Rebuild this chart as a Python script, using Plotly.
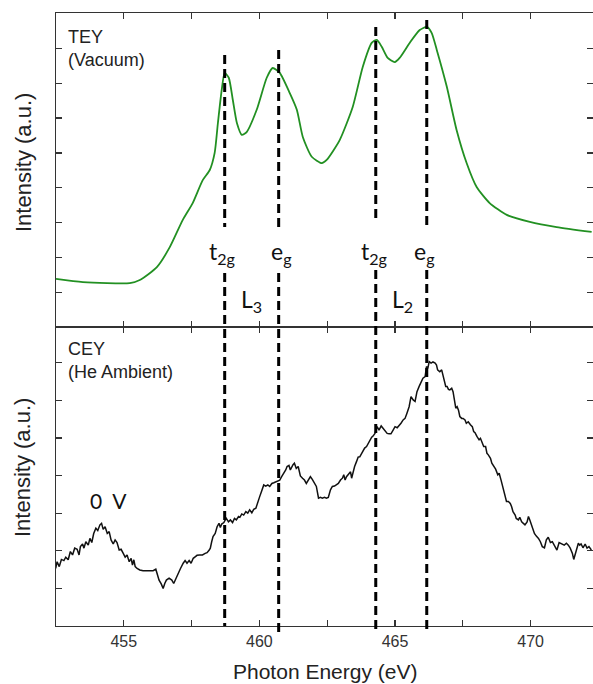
import plotly.graph_objects as go
from plotly.subplots import make_subplots

# ---------------- data ----------------
tey_energy = [452.50, 453.49, 455.22, 455.59, 456.22, 456.70, 457.17, 457.54, 457.91, 458.17,
              458.35, 458.47, 458.61, 458.72, 458.87, 459.02, 459.17, 459.35, 459.53, 459.90,
              460.27, 460.49, 460.75, 461.12, 461.38, 461.60, 461.93, 462.30, 462.48, 462.96,
              463.44, 463.81, 464.14, 464.33, 464.51, 464.73, 464.99, 465.17, 465.54, 465.91,
              466.17, 466.35, 466.54, 466.91, 467.27, 467.64, 468.01, 468.49, 469.12, 469.97,
              470.96, 472.25]
tey_intensity = [1.38, 1.29, 1.26, 1.35, 1.72, 2.30, 3.07, 3.56, 4.22, 4.51,
                 5.00, 5.86, 6.81, 7.30, 7.16, 6.52, 5.86, 5.52, 5.60, 6.24,
                 7.16, 7.44, 7.30, 6.72, 6.24, 5.46, 4.89, 4.71, 4.80, 5.37,
                 6.32, 7.47, 8.16, 8.25, 8.05, 7.73, 7.61, 7.73, 8.16, 8.53,
                 8.62, 8.45, 7.96, 6.90, 5.66, 4.71, 4.02, 3.56, 3.22, 3.02,
                 2.87, 2.73]

cey_energy = [452.49, 452.54, 452.62, 452.70, 452.79, 452.86, 452.95, 453.03, 453.11, 453.19,
              453.28, 453.35, 453.40, 453.48, 453.53, 453.60, 453.69, 453.75, 453.82, 453.89,
              453.97, 454.04, 454.12, 454.18, 454.24, 454.31, 454.39, 454.46, 454.53, 454.61,
              454.68, 454.75, 454.83, 454.90, 454.98, 455.05, 455.12, 455.20, 455.27, 455.32,
              455.37, 455.42, 455.49, 455.59, 455.71, 455.84, 455.96, 456.08, 456.18, 456.23,
              456.30, 456.38, 456.45, 456.51, 456.57, 456.67, 456.77, 456.84, 456.92, 457.00,
              457.09, 457.19, 457.26, 457.33, 457.41, 457.48, 457.56, 457.63, 457.70, 457.80,
              457.90, 458.00, 458.07, 458.15, 458.19, 458.24, 458.29, 458.37, 458.44, 458.51,
              458.56, 458.61, 458.69, 458.74, 458.78, 458.86, 458.93, 459.01, 459.08, 459.15,
              459.23, 459.28, 459.35, 459.42, 459.50, 459.57, 459.64, 459.72, 459.79, 459.87,
              459.94, 460.01, 460.09, 460.16, 460.23, 460.31, 460.38, 460.46, 460.53, 460.60,
              460.68, 460.75, 460.82, 460.90, 460.97, 461.02, 461.09, 461.14, 461.19, 461.24,
              461.29, 461.36, 461.43, 461.51, 461.59, 461.66, 461.73, 461.81, 461.88, 461.95,
              462.03, 462.10, 462.18, 462.25, 462.32, 462.40, 462.47, 462.54, 462.62, 462.69,
              462.77, 462.84, 462.91, 462.99, 463.06, 463.11, 463.16, 463.21, 463.26, 463.31,
              463.36, 463.40, 463.45, 463.51, 463.58, 463.64, 463.70, 463.76, 463.82, 463.88,
              463.95, 464.01, 464.07, 464.14, 464.19, 464.26, 464.34, 464.41, 464.49, 464.56,
              464.63, 464.71, 464.78, 464.85, 464.93, 465.00, 465.08, 465.15, 465.22, 465.30,
              465.37, 465.44, 465.52, 465.59, 465.67, 465.74, 465.81, 465.89, 465.96, 466.03,
              466.11, 466.16, 466.21, 466.26, 466.33, 466.40, 466.48, 466.53, 466.57, 466.65,
              466.72, 466.77, 466.82, 466.87, 466.92, 466.97, 467.02, 467.09, 467.14, 467.19,
              467.24, 467.29, 467.34, 467.39, 467.46, 467.51, 467.58, 467.63, 467.70, 467.78,
              467.85, 467.90, 467.95, 468.02, 468.10, 468.15, 468.20, 468.27, 468.34, 468.39,
              468.44, 468.52, 468.57, 468.64, 468.71, 468.79, 468.84, 468.91, 468.98, 469.06,
              469.11, 469.18, 469.25, 469.30, 469.35, 469.43, 469.47, 469.55, 469.60, 469.67,
              469.72, 469.79, 469.87, 469.92, 469.97, 470.01, 470.06, 470.14, 470.21, 470.29,
              470.36, 470.43, 470.51, 470.58, 470.65, 470.73, 470.80, 470.88, 470.92, 470.97,
              471.05, 471.12, 471.17, 471.24, 471.32, 471.39, 471.46, 471.54, 471.59, 471.66,
              471.71, 471.76, 471.81, 471.86, 471.93, 472.01, 472.08, 472.15, 472.24]
cey_intensity = [1.53, 1.71, 1.58, 1.77, 1.74, 1.83, 1.76, 1.98, 1.89, 2.07,
                 2.04, 1.89, 2.11, 2.18, 2.07, 2.24, 2.15, 2.33, 2.22, 2.46,
                 2.60, 2.54, 2.69, 2.73, 2.57, 2.64, 2.46, 2.51, 2.29, 2.18,
                 2.29, 2.22, 2.02, 2.04, 1.93, 1.83, 1.89, 1.71, 1.80, 1.62,
                 1.76, 1.58, 1.53, 1.49, 1.47, 1.47, 1.47, 1.47, 1.51, 1.36,
                 1.22, 1.12, 1.00, 1.13, 1.22, 1.27, 1.22, 1.13, 1.27, 1.40,
                 1.53, 1.67, 1.74, 1.67, 1.74, 1.67, 1.80, 1.84, 1.88, 1.89,
                 1.89, 1.93, 1.95, 2.02, 2.07, 2.24, 2.38, 2.46, 2.64, 2.73,
                 2.62, 2.71, 2.75, 2.82, 2.86, 2.77, 2.82, 2.75, 2.86, 2.82,
                 2.91, 2.89, 2.98, 2.95, 3.04, 3.00, 3.09, 3.01, 3.10, 3.13,
                 3.26, 3.44, 3.60, 3.75, 3.72, 3.75, 3.71, 3.79, 3.81, 3.83,
                 3.84, 3.88, 3.97, 4.06, 4.15, 4.24, 4.27, 4.15, 4.24, 4.29,
                 4.33, 4.19, 4.24, 3.99, 3.93, 3.88, 3.79, 3.90, 3.97, 3.90,
                 3.79, 3.71, 3.40, 3.42, 3.40, 3.42, 3.40, 3.42, 3.62, 3.71,
                 3.72, 3.75, 3.79, 3.88, 3.93, 4.02, 3.88, 3.97, 4.02, 4.08,
                 4.10, 3.93, 4.08, 4.24, 4.37, 4.49, 4.50, 4.59, 4.64, 4.73,
                 4.77, 4.86, 4.95, 5.02, 5.05, 5.12, 5.30, 5.21, 5.32, 5.26,
                 5.17, 5.12, 5.11, 5.11, 5.21, 5.30, 5.27, 5.32, 5.39, 5.48,
                 5.52, 5.66, 5.83, 6.10, 6.01, 5.97, 6.23, 6.37, 6.50, 6.59,
                 6.63, 6.90, 6.85, 7.03, 6.99, 7.02, 6.99, 6.94, 6.81, 6.76,
                 6.81, 6.63, 6.50, 6.37, 6.37, 6.29, 6.28, 6.32, 6.23, 6.01,
                 5.79, 5.83, 5.74, 5.57, 5.52, 5.52, 5.48, 5.39, 5.43, 5.35,
                 5.30, 5.17, 5.14, 5.04, 4.95, 4.99, 4.90, 4.77, 4.77, 4.59,
                 4.55, 4.46, 4.33, 4.24, 4.17, 4.02, 4.06, 3.88, 3.66, 3.48,
                 3.31, 3.31, 3.26, 3.17, 3.04, 2.95, 2.86, 2.82, 2.89, 2.77,
                 2.73, 2.69, 2.77, 2.91, 2.82, 2.73, 2.60, 2.46, 2.39, 2.33,
                 2.24, 2.11, 2.08, 2.29, 2.36, 2.22, 2.24, 2.15, 2.11, 2.02,
                 2.22, 2.20, 2.18, 2.15, 2.20, 2.15, 2.07, 1.93, 1.77, 1.93,
                 2.11, 2.20, 2.15, 2.18, 2.08, 2.18, 2.07, 2.11, 2.02]

peak_energies = [458.72, 460.71, 464.29, 466.17]
peak_labels = ["t<sub>2g</sub>", "e<sub>g</sub>", "t<sub>2g</sub>", "e<sub>g</sub>"]
edge_labels = ["L<sub>3</sub>", "L<sub>2</sub>"]
edge_positions = [459.72, 465.28]

x_tickvals = [455, 457.5, 460, 462.5, 465, 467.5, 470]
x_ticktext = ["455", "", "460", "", "465", "", "470"]

# ---------------- figure ----------------
W, H = 593, 684
ML, MR, MT, MB = 56, 0, 13, 58
plot_h = H - MT - MB

fig = make_subplots(rows=2, cols=1, shared_xaxes=True, vertical_spacing=0,
                    row_heights=[314, 299])

fig.add_trace(go.Scatter(x=tey_energy, y=tey_intensity, mode="lines",
                         line=dict(color="#229022", width=1.8, shape="spline", smoothing=0.6),
                         showlegend=False, hoverinfo="skip"), row=1, col=1)
fig.add_trace(go.Scatter(x=cey_energy, y=cey_intensity, mode="lines",
                         line=dict(color="#111111", width=1.5),
                         showlegend=False, hoverinfo="skip"), row=2, col=1)

axis_common = dict(showline=True, linecolor="#333333", linewidth=1.3, mirror="ticks",
                   ticks="inside", tickcolor="#333333", tickwidth=1.3, ticklen=6,
                   showgrid=False, zeroline=False)

fig.update_xaxes(range=[452.5, 472.3], tickvals=x_tickvals, ticktext=x_ticktext,
                 tickfont=dict(family="Liberation Sans, Arial", size=16, color="#333333"),
                 **axis_common)
fig.update_xaxes(showticklabels=False, row=1, col=1)
fig.update_yaxes(range=[0, 9.02], tickvals=[1, 2, 3, 4, 5, 6, 7, 8],
                 showticklabels=False, row=1, col=1, **axis_common)
fig.update_yaxes(range=[0, 7.95], tickvals=[1, 2, 3, 4, 5, 6, 7],
                 showticklabels=False, row=2, col=1, **axis_common)

def py(px):
    """pixel y (from top of figure) -> paper coordinate"""
    return (H - MB - px) / plot_h

shapes = []
tops = [55, 50, 27, 20]
gap_top = [227, 230, 223, 227]
gap_bot = [273, 273, 270, 270]
bottoms = [626, 633, 633, 630]
for e, t, g1, g2, b in zip(peak_energies, tops, gap_top, gap_bot, bottoms):
    for y0, y1 in [(t, g1), (g2, b)]:
        shapes.append(dict(type="line", xref="x2", yref="paper", x0=e, x1=e,
                           y0=py(y0), y1=py(y1),
                           line=dict(color="black", width=3, dash="9px,5px"), layer="above"))
fig.update_layout(shapes=shapes)

label_font = dict(family="Lato, Carlito, sans-serif", size=23, color="#111111")
label_shift = [-2, 3, -1, -2]
for e, lab, sh in zip(peak_energies, peak_labels, label_shift):
    fig.add_annotation(x=e, y=py(252), xref="x2", yref="paper", text=lab, showarrow=False,
                       xanchor="center", yanchor="middle", xshift=sh, font=label_font)
for e, lab in zip(edge_positions, edge_labels):
    fig.add_annotation(x=e, y=py(300), xref="x2", yref="paper", text=lab, showarrow=False,
                       xanchor="center", yanchor="middle", font=label_font)

arial = "Liberation Sans, Arial, sans-serif"
fig.add_annotation(x=(66 - ML) / (W - ML - MR), y=py(25), xref="paper", yref="paper",
                   text="TEY<br>(Vacuum)", showarrow=False, xanchor="left", yanchor="top",
                   align="left", font=dict(family=arial, size=18, color="#222222"))
fig.add_annotation(x=(66 - ML) / (W - ML - MR), y=py(337), xref="paper", yref="paper",
                   text="CEY<br>(He Ambient)", showarrow=False, xanchor="left", yanchor="top",
                   align="left", font=dict(family=arial, size=18, color="#222222"))
fig.add_annotation(x=(108 - ML) / (W - ML - MR), y=py(500), xref="paper", yref="paper",
                   text="0\u00a0\u00a0V", showarrow=False, xanchor="center", yanchor="middle",
                   font=dict(family="Lato, Carlito, sans-serif", size=21, color="#111111"))

for yc in [163, 468]:
    fig.add_annotation(x=(23 - ML) / (W - ML - MR), y=py(yc), xref="paper", yref="paper",
                       text="Intensity (a.u.)", textangle=-90, showarrow=False,
                       xanchor="center", yanchor="middle",
                       font=dict(family=arial, size=22, color="#222222"))
fig.add_annotation(x=0.5, y=py(672), xref="paper", yref="paper",
                   text="Photon Energy (eV)", showarrow=False,
                   xanchor="center", yanchor="middle",
                   font=dict(family=arial, size=21, color="#222222"))

fig.update_layout(width=W, height=H, margin=dict(l=ML, r=MR, t=MT, b=MB),
                  plot_bgcolor="white", paper_bgcolor="white")

fig.write_html("out.html", config={"displayModeBar": False, "staticPlot": True},
               post_script="document.body.style.margin='0px';document.body.style.overflow='hidden';")
